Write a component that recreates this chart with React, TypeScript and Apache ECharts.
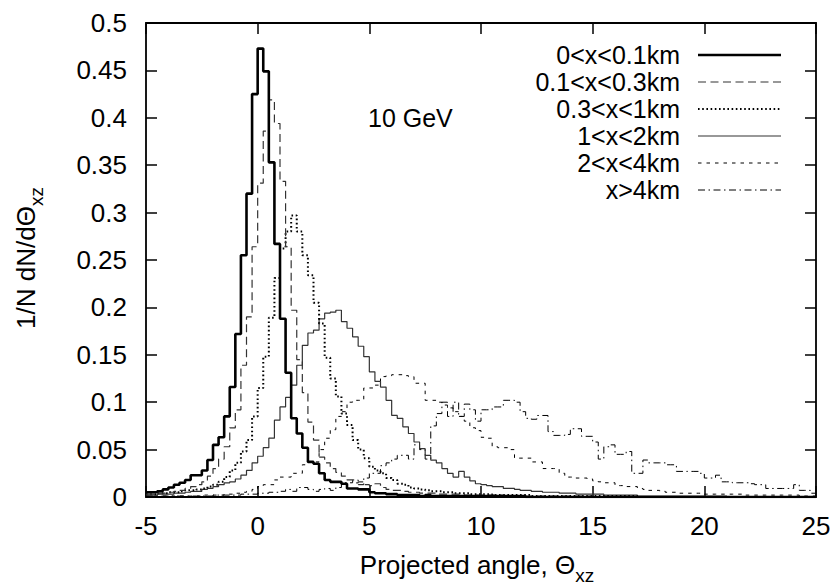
import React, { useEffect, useRef } from "react";
import * as echarts from "echarts";

// ---------------- data ----------------
const BIN_START = -5;
const BIN_WIDTH = 0.25;
const xMin = -5;
const xMax = 25;
const xStep = 5;
const yMin = 0;
const yMax = 0.5;
const yStep = 0.05;

const seriesNames = ["0<x<0.1km", "0.1<x<0.3km", "0.3<x<1km", "1<x<2km", "2<x<4km", "x>4km"];
const energyLabel = "10 GeV";

// 0<x<0.1km  (bins of 0.25 starting at -5)
const s01 = [
  0.005, 0.005, 0.006, 0.008, 0.010, 0.013, 0.015, 0.018,
  0.023, 0.023, 0.028, 0.039, 0.055, 0.063, 0.085, 0.116,
  0.172, 0.255, 0.320, 0.425, 0.473, 0.449, 0.353, 0.267,
  0.188, 0.131, 0.083, 0.067, 0.052, 0.037, 0.035, 0.025,
  0.018, 0.016, 0.016, 0.014, 0.009, 0.009, 0.008, 0.008,
  0.005, 0.004, 0.004, 0.003, 0.003, 0.002, 0.002, 0.002,
  0.002, 0.001, 0.002, 0.001, 0.001, 0.001, 0.001, 0.001,
  0.001, 0.001, 0.001, 0.001, 0.001, 0.001, 0.001, 0.001,
  0.001, 0.001, 0.001, 0.001, 0, 0, 0, 0,
  0, 0, 0, 0, 0, 0, 0, 0,
  0, 0, 0, 0, 0, 0, 0, 0,
  0, 0, 0, 0, 0, 0, 0, 0,
  0, 0, 0, 0, 0, 0, 0, 0,
  0, 0, 0, 0, 0, 0, 0, 0,
  0, 0, 0, 0, 0, 0, 0, 0,
];

// 0.1<x<0.3km
const s02 = [
  0.003, 0.003, 0.004, 0.004, 0.005, 0.006, 0.007, 0.009,
  0.011, 0.013, 0.016, 0.022, 0.030, 0.040, 0.053, 0.073,
  0.092, 0.139, 0.190, 0.264, 0.331, 0.386, 0.419, 0.394,
  0.333, 0.264, 0.197, 0.145, 0.110, 0.079, 0.060, 0.042,
  0.036, 0.030, 0.026, 0.022, 0.018, 0.015, 0.016, 0.013,
  0.012, 0.014, 0.010, 0.008, 0.007, 0.007, 0.006, 0.005,
  0.005, 0.004, 0.004, 0.004, 0.003, 0.003, 0.003, 0.003,
  0.003, 0.002, 0.002, 0.002, 0.002, 0.002, 0.002, 0.002,
  0.001, 0.001, 0.001, 0.001, 0.001, 0.001, 0.001, 0.001,
  0.001, 0.001, 0.001, 0.001, 0.001, 0.001, 0.001, 0.001,
  0, 0, 0, 0, 0, 0, 0, 0,
  0, 0, 0, 0, 0, 0, 0, 0,
  0, 0, 0, 0, 0, 0, 0, 0,
  0, 0, 0, 0, 0, 0, 0, 0,
  0, 0, 0, 0, 0, 0, 0, 0,
];

// 0.3<x<1km
const s03 = [
  0.003, 0.003, 0.004, 0.004, 0.005, 0.005, 0.006, 0.007,
  0.007, 0.008, 0.009, 0.011, 0.013, 0.016, 0.021, 0.028,
  0.036, 0.048, 0.060, 0.085, 0.115, 0.148, 0.189, 0.231,
  0.262, 0.280, 0.297, 0.280, 0.255, 0.234, 0.205, 0.183,
  0.147, 0.125, 0.106, 0.088, 0.076, 0.060, 0.050, 0.041,
  0.032, 0.028, 0.025, 0.020, 0.018, 0.014, 0.013, 0.010,
  0.009, 0.008, 0.007, 0.006, 0.006, 0.005, 0.005, 0.004,
  0.004, 0.004, 0.003, 0.003, 0.003, 0.003, 0.002, 0.002,
  0.002, 0.002, 0.002, 0.002, 0.002, 0.001, 0.001, 0.001,
  0.001, 0.001, 0.001, 0.001, 0.001, 0.001, 0.001, 0.001,
  0.001, 0.001, 0.001, 0.001, 0.001, 0.001, 0.001, 0.001,
  0, 0, 0, 0, 0, 0, 0, 0,
  0, 0, 0, 0, 0, 0, 0, 0,
  0, 0, 0, 0, 0, 0, 0, 0,
  0, 0, 0, 0, 0, 0, 0, 0,
];

// 1<x<2km
const s04 = [
  0.002, 0.002, 0.003, 0.003, 0.003, 0.004, 0.004, 0.005,
  0.006, 0.006, 0.008, 0.009, 0.011, 0.013, 0.015, 0.016,
  0.019, 0.023, 0.028, 0.036, 0.043, 0.052, 0.062, 0.081,
  0.095, 0.105, 0.118, 0.139, 0.160, 0.173, 0.176, 0.188,
  0.194, 0.195, 0.197, 0.185, 0.178, 0.169, 0.159, 0.148,
  0.132, 0.122, 0.116, 0.102, 0.086, 0.083, 0.074, 0.067,
  0.058, 0.051, 0.044, 0.039, 0.036, 0.030, 0.025, 0.021,
  0.027, 0.021, 0.017, 0.014, 0.013, 0.012, 0.011, 0.011,
  0.009, 0.009, 0.008, 0.007, 0.007, 0.006, 0.006, 0.005,
  0.005, 0.005, 0.004, 0.004, 0.004, 0.003, 0.003, 0.003,
  0.003, 0.003, 0.002, 0.002, 0.002, 0.002, 0.002, 0.002,
  0.001, 0.001, 0.001, 0.001, 0.001, 0.001, 0.001, 0.001,
  0.001, 0.001, 0.001, 0.001, 0.001, 0.001, 0.001, 0.001,
  0, 0, 0, 0, 0, 0, 0, 0,
  0, 0, 0, 0, 0, 0, 0, 0,
];

// 2<x<4km
const s05 = [
  0.001, 0.001, 0.001, 0.001, 0.001, 0.001, 0.001, 0.001,
  0.001, 0.001, 0.002, 0.002, 0.002, 0.002, 0.003, 0.003,
  0.004, 0.005, 0.006, 0.008, 0.011, 0.013, 0.013, 0.018,
  0.021, 0.021, 0.025, 0.025, 0.034, 0.037, 0.037, 0.050,
  0.062, 0.071, 0.085, 0.090, 0.100, 0.102, 0.102, 0.115,
  0.115, 0.118, 0.127, 0.128, 0.129, 0.129, 0.128, 0.127,
  0.120, 0.120, 0.102, 0.102, 0.100, 0.097, 0.094, 0.090,
  0.085, 0.080, 0.073, 0.070, 0.063, 0.062, 0.053, 0.052,
  0.052, 0.050, 0.041, 0.041, 0.041, 0.037, 0.037, 0.030,
  0.030, 0.030, 0.025, 0.021, 0.021, 0.020, 0.020, 0.019,
  0.017, 0.016, 0.015, 0.015, 0.012, 0.012, 0.011, 0.011,
  0.009, 0.008, 0.007, 0.007, 0.006, 0.005, 0.005, 0.004,
  0.004, 0.004, 0.004, 0.004, 0.003, 0.003, 0.003, 0.003,
  0.003, 0.003, 0.003, 0.002, 0.002, 0.002, 0.002, 0.002,
  0.002, 0.002, 0.002, 0.002, 0.002, 0.001, 0.001, 0.001,
];

// x>4km
const s06 = [
  0.001, 0.001, 0.001, 0.001, 0.001, 0.001, 0.001, 0.001,
  0.001, 0.001, 0.001, 0.001, 0.002, 0.002, 0.002, 0.002,
  0.002, 0.003, 0.003, 0.003, 0.004, 0.004, 0.005, 0.005,
  0.006, 0.008, 0.006, 0.010, 0.010, 0.008, 0.006, 0.008,
  0.009, 0.007, 0.010, 0.015, 0.015, 0.018, 0.013, 0.020,
  0.025, 0.025, 0.033, 0.036, 0.040, 0.044, 0.044, 0.040,
  0.055, 0.050, 0.040, 0.075, 0.088, 0.100, 0.085, 0.100,
  0.085, 0.098, 0.092, 0.080, 0.092, 0.092, 0.095, 0.095,
  0.102, 0.102, 0.100, 0.090, 0.083, 0.082, 0.086, 0.086,
  0.069, 0.065, 0.065, 0.066, 0.072, 0.072, 0.064, 0.064,
  0.058, 0.040, 0.053, 0.055, 0.045, 0.045, 0.048, 0.025,
  0.025, 0.039, 0.036, 0.036, 0.036, 0.034, 0.034, 0.027,
  0.027, 0.027, 0.027, 0.025, 0.020, 0.020, 0.023, 0.016,
  0.016, 0.015, 0.015, 0.015, 0.014, 0.013, 0.013, 0.009,
  0.009, 0.009, 0.009, 0.009, 0.013, 0.007, 0.007, 0.004,
];

const allSeries = [s01, s02, s03, s04, s05, s06];

// ---------------- styles ----------------
const FONT = '"Liberation Sans", Arial, Helvetica, sans-serif';
const FS = 25;
const FS_AXIS = 26;
const lineStyles = [
  { color: "#000", width: 2.6, type: "solid" as any },
  { color: "#333", width: 1.2, type: [8, 4.5] as any },
  { color: "#000", width: 2, type: [1.6, 2.6] as any },
  { color: "#333", width: 1.2, type: "solid" as any },
  { color: "#000", width: 1, type: [3.5, 5] as any },
  { color: "#000", width: 1, type: [7, 3.5, 1.5, 3.5] as any },
];

function toSteps(vals: number[]): number[][] {
  const pts = vals.map((v, i) => [BIN_START + i * BIN_WIDTH, v]);
  pts.push([BIN_START + vals.length * BIN_WIDTH, vals[vals.length - 1]]);
  return pts;
}

const GRID = { left: 146, top: 23, width: 670, height: 474 };

export default function App() {
  const ref = useRef<HTMLDivElement>(null);

  useEffect(() => {
    if (!ref.current) return;
    const chart = echarts.init(ref.current, null, { renderer: "svg" });

    const tickCommon = {
      show: true,
      inside: true,
      length: 11,
      lineStyle: { color: "#000", width: 1.5 },
    };
    const noLine = { show: false, onZero: false };

    const legendX2 = 680;
    const legendLine1 = 698;
    const legendLine2 = 781;
    const legendY0 = 55;
    const legendDY = 27;

    const graphics: any[] = [];
    seriesNames.forEach((name, i) => {
      const y = legendY0 + i * legendDY;
      graphics.push({
        type: "text",
        x: legendX2,
        y,
        style: {
          text: name,
          fontSize: FS,
          fontFamily: FONT,
          fill: "#000",
          align: "right",
          verticalAlign: "middle",
        },
      });
      const ls = lineStyles[i];
      graphics.push({
        type: "line",
        shape: { x1: legendLine1, y1: y, x2: legendLine2, y2: y },
        style: {
          stroke: ls.color,
          lineWidth: ls.width,
          lineDash: Array.isArray(ls.type) ? ls.type : null,
        },
      });
    });

    graphics.push({
      type: "text",
      x: 368,
      y: 118,
      style: {
        text: energyLabel,
        fontSize: FS,
        fontFamily: FONT,
        fill: "#000",
        align: "left",
        verticalAlign: "middle",
      },
    });

    const titleRich = {
      a: { fontSize: FS_AXIS, fontFamily: FONT, lineHeight: 28, verticalAlign: "top", fill: "#000" },
      b: { fontSize: 19, fontFamily: FONT, lineHeight: 47, fill: "#000" },
    };

    graphics.push({
      type: "text",
      x: 477,
      y: 552,
      style: {
        text: "{a|Projected angle, Θ}{b|xz}",
        rich: titleRich,
        align: "center",
        verticalAlign: "top",
        fill: "#000",
      },
    });

    graphics.push({
      type: "text",
      x: 13,
      y: 258,
      rotation: Math.PI / 2,
      style: {
        text: "{a|1/N dN/dΘ}{b|xz}",
        rich: titleRich,
        align: "center",
        verticalAlign: "top",
        fill: "#000",
      },
    });

    const option: any = {
      animation: false,
      backgroundColor: "#fff",
      grid: {
        ...GRID,
        show: true,
        borderColor: "#000",
        borderWidth: 1.8,
        backgroundColor: "transparent",
      },
      xAxis: [
        {
          type: "value",
          min: xMin,
          max: xMax,
          interval: xStep,
          position: "bottom",
          axisLine: noLine,
          axisTick: tickCommon,
          splitLine: { show: false },
          axisLabel: {
            color: "#000",
            fontSize: FS_AXIS,
            fontFamily: FONT,
            margin: 16,
          },
        },
        {
          type: "value",
          min: xMin,
          max: xMax,
          interval: xStep,
          position: "top",
          axisLine: noLine,
          axisTick: tickCommon,
          splitLine: { show: false },
          axisLabel: { show: false },
        },
      ],
      yAxis: [
        {
          type: "value",
          min: yMin,
          max: yMax,
          interval: yStep,
          position: "left",
          axisLine: noLine,
          axisTick: tickCommon,
          splitLine: { show: false },
          axisLabel: {
            color: "#000",
            fontSize: FS_AXIS,
            fontFamily: FONT,
            margin: 19,
          },
        },
        {
          type: "value",
          min: yMin,
          max: yMax,
          interval: yStep,
          position: "right",
          axisLine: noLine,
          axisTick: tickCommon,
          splitLine: { show: false },
          axisLabel: { show: false },
        },
      ],
      series: allSeries.map((vals, i) => ({
        name: seriesNames[i],
        type: "line",
        step: "end",
        data: toSteps(vals),
        showSymbol: false,
        symbol: "none",
        xAxisIndex: 0,
        yAxisIndex: 0,
        lineStyle: { ...lineStyles[i] },
        z: 10 - i,
      })),
      graphic: graphics,
    };

    chart.setOption(option);
    return () => {
      chart.dispose();
    };
  }, []);

  return (
    <div
      ref={ref}
      style={{ position: "fixed", left: 0, top: 0, width: 835, height: 588, background: "#fff" }}
    />
  );
}
